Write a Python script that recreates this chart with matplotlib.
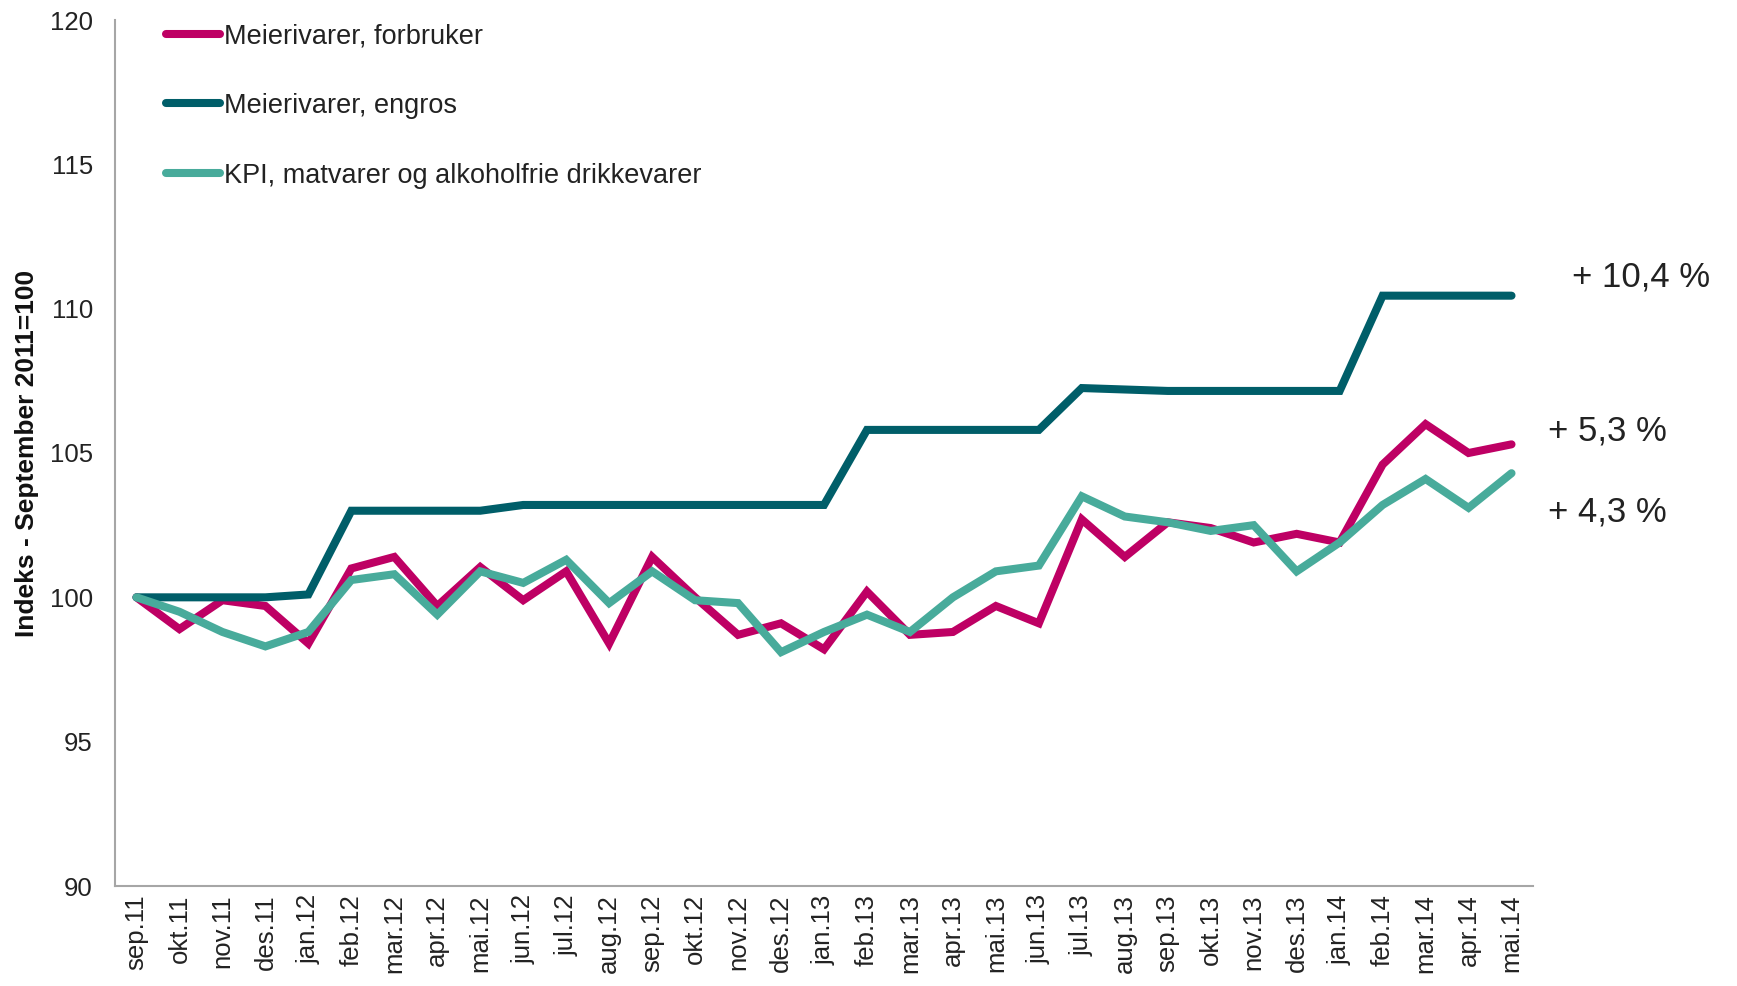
import matplotlib
matplotlib.use("Agg")
import matplotlib.pyplot as plt

plt.rcParams['font.family'] = ['Liberation Sans', 'DejaVu Sans']

# Month labels (sep.11 - mai.14)
months = ["sep.11", "okt.11", "nov.11", "des.11", "jan.12", "feb.12", "mar.12", "apr.12",
          "mai.12", "jun.12", "jul.12", "aug.12", "sep.12", "okt.12", "nov.12", "des.12",
          "jan.13", "feb.13", "mar.13", "apr.13", "mai.13", "jun.13", "jul.13", "aug.13",
          "sep.13", "okt.13", "nov.13", "des.13", "jan.14", "feb.14", "mar.14", "apr.14",
          "mai.14"]

# Index values, September 2011 = 100
forbruker = [100.0, 98.9, 99.9, 99.7, 98.4, 101.0, 101.4, 99.7, 101.05, 99.9, 100.9,
             98.4, 101.4, 100.0, 98.7, 99.1, 98.2, 100.2, 98.7, 98.8, 99.7, 99.1,
             102.7, 101.4, 102.6, 102.4, 101.9, 102.2, 101.9, 104.6, 106.0, 105.0, 105.3]
engros = [100.0, 100.0, 100.0, 100.0, 100.1, 103.0, 103.0, 103.0, 103.0, 103.2, 103.2,
          103.2, 103.2, 103.2, 103.2, 103.2, 103.2, 105.8, 105.8, 105.8, 105.8, 105.8,
          107.25, 107.2, 107.15, 107.15, 107.15, 107.15, 107.15, 110.45, 110.45, 110.45, 110.45]
kpi = [100.0, 99.5, 98.8, 98.3, 98.8, 100.6, 100.8, 99.4, 100.9, 100.5, 101.3, 99.8,
       100.9, 99.9, 99.8, 98.1, 98.8, 99.4, 98.8, 100.0, 100.9, 101.1, 103.5, 102.8,
       102.6, 102.3, 102.5, 100.9, 101.9, 103.2, 104.1, 103.1, 104.3]

series_names = ["Meierivarer, forbruker", "Meierivarer, engros",
                "KPI, matvarer og alkoholfrie drikkevarer"]
end_labels = ["+ 5,3 %", "+ 10,4 %", "+ 4,3 %"]

colors = ["#BE0064", "#005E69", "#48AB9B"]

fig = plt.figure(figsize=(17.37, 9.86), dpi=100)
ax = fig.add_axes([115 / 1737, 1 - 886 / 986, 1418 / 1737, 866 / 986])

x = list(range(len(months)))
for values, name, color in zip([forbruker, engros, kpi], series_names, colors):
    ax.plot(x, values, color=color, linewidth=5.8, label=name,
            solid_capstyle='round', solid_joinstyle='miter')

ax.set_xlim(-0.5, len(months) - 0.5)
ax.set_ylim(90, 120)
ax.set_yticks([90, 95, 100, 105, 110, 115, 120])
ax.set_xticks(x)
ax.set_xticklabels(months, rotation=90)
ax.tick_params(axis='y', length=0, pad=16, labelsize=18.5, labelcolor='#222222')
ax.tick_params(axis='x', length=0, pad=6, labelsize=18.5, labelcolor='#222222')

for side in ["top", "right"]:
    ax.spines[side].set_visible(False)
for side in ["left", "bottom"]:
    ax.spines[side].set_color("#A6A6A6")
    ax.spines[side].set_linewidth(1.5)

fig.text(27 / 1737, 0.5405, "Indeks - September 2011=100", rotation=90,
         ha='center', va='center', fontsize=19, fontweight='bold', color='#111111')

# End-of-series change labels
ax.text(33.4, 111.1, end_labels[1], fontsize=25, color='#222222', ha='left', va='center', clip_on=False)
ax.text(32.85, 105.75, end_labels[0], fontsize=25, color='#222222', ha='left', va='center', clip_on=False)
ax.text(32.85, 102.95, end_labels[2], fontsize=25, color='#222222', ha='left', va='center', clip_on=False)

leg = ax.legend(loc='upper left', bbox_to_anchor=(0.0285, 1.009), frameon=False,
                fontsize=19.5, handlelength=2.0, handletextpad=0.15, labelspacing=1.62,
                borderaxespad=0)
for t in leg.get_texts():
    t.set_color('#222222')

plt.savefig("out.png", dpi=100)
